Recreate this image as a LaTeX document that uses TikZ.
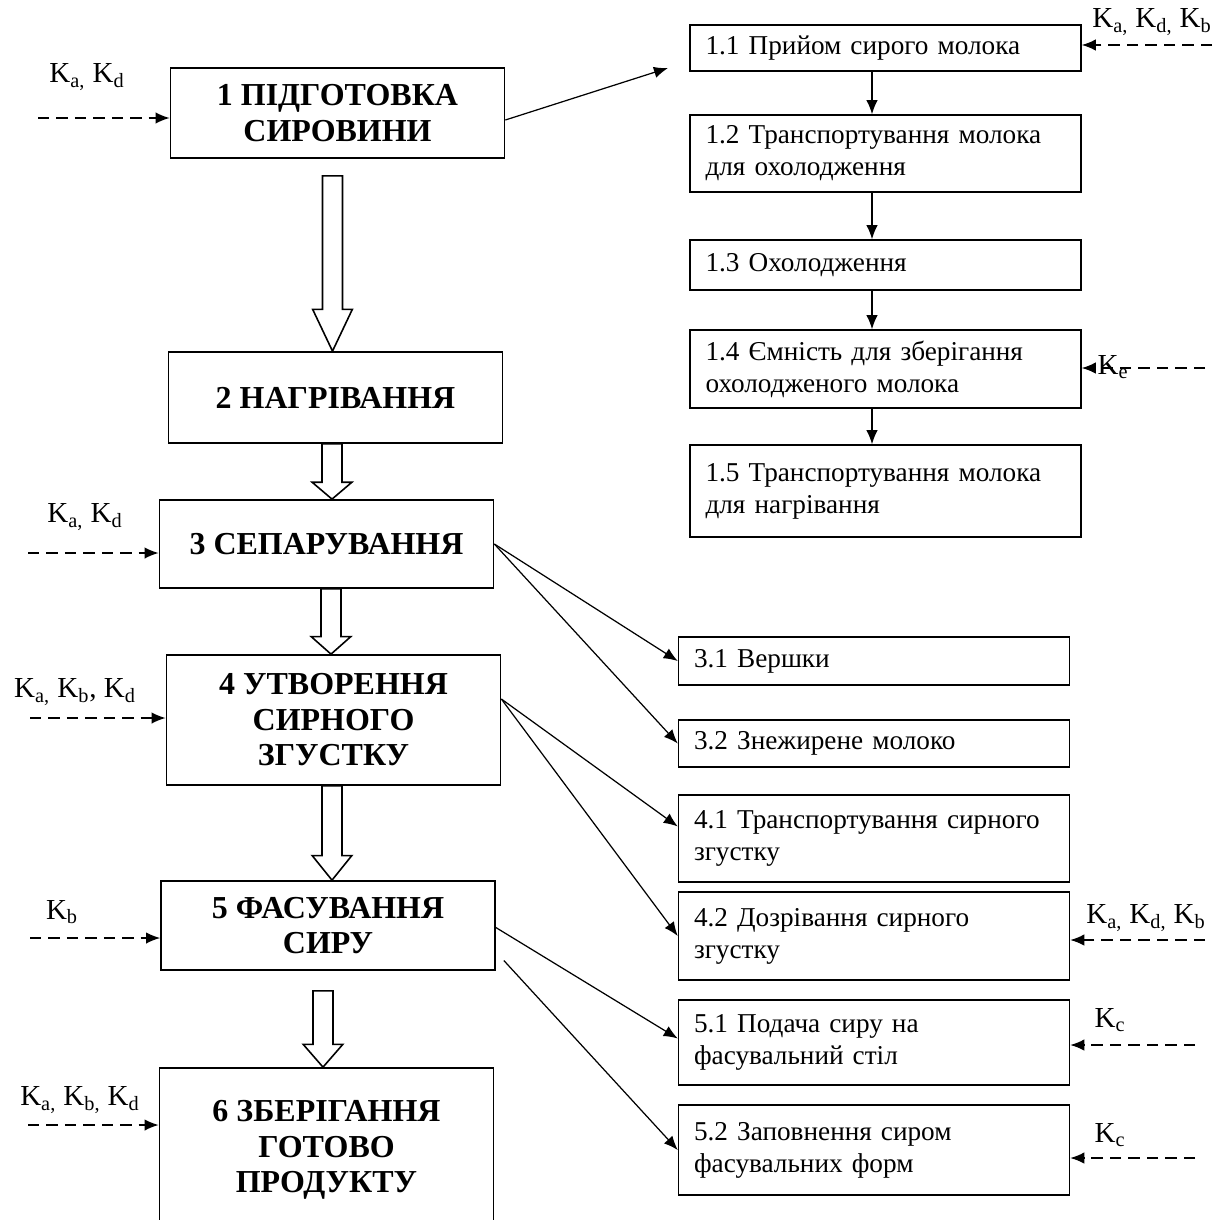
\documentclass[tikz,border=0pt]{standalone}
\usepackage{fontspec}
\setmainfont{Liberation Serif}
\usetikzlibrary{arrows.meta,calc}
\tikzset{
  mainbox/.style={draw,line width=1pt,minimum width=6.68cm,align=center,inner sep=0pt,
    font=\bfseries\fontsize{18.2}{20.2}\selectfont},
  subbox/.style={draw,line width=0.9pt,minimum width=7.82cm,text width=7.2cm,inner xsep=0.31cm,
    inner ysep=0pt,align=left,font=\fontsize{15.5}{18.3}\selectfont},
  ctrl/.style={line width=0.8pt,dash pattern=on 6.5pt off 4pt,-{Latex[length=8pt,width=6.5pt]}},
  flow/.style={line width=0.7pt,-{Latex[length=8pt,width=6.5pt]}},
  klabel/.style={font=\fontsize{16.5}{19}\selectfont,inner sep=0pt},
  hollow/.style={line width=0.9pt,fill=white}
}
\newcommand{\Ks}[1]{K\textsubscript{#1}}
\newcommand{\holarrow}[3]{%
  \draw[hollow] let \p1=#1, \p2=#2 in
    (\x2-5.7pt,\y1) -- (\x2-5.7pt,\y2+#3) -- (\x2-11.3pt,\y2+#3) -- (\x2,\y2)
    -- (\x2+11.3pt,\y2+#3) -- (\x2+5.7pt,\y2+#3) -- (\x2+5.7pt,\y1) -- cycle;}
\begin{document}
\begin{tikzpicture}[x=0.02cm,y=-0.02cm]
  \useasboundingbox (0,0) rectangle (1215,1220);
  \clip (0,0) rectangle (1215,1220);
  % main stages
  \node[mainbox,minimum height=1.8cm] (b1) at (337.5,113) {1 ПІДГОТОВКА\\СИРОВИНИ};
  \node[mainbox,minimum height=1.82cm] (b2) at (335.5,397.5) {2 НАГРІВАННЯ};
  \node[mainbox,minimum height=1.76cm] (b3) at (326.5,544) {3 СЕПАРУВАННЯ};
  \node[mainbox,minimum height=2.6cm] (b4) at (333.5,720) {4 УТВОРЕННЯ\\СИРНОГО\\ЗГУСТКУ};
  \node[mainbox,minimum height=1.78cm] (b5) at (328,925.5) {5 ФАСУВАННЯ\\СИРУ};
  \node[mainbox,minimum height=3.28cm] (b6) at (326.5,1150) {6 ЗБЕРІГАННЯ\\ГОТОВО\\ПРОДУКТУ};
  % sub steps
  \node[subbox,minimum height=0.92cm] (b11) at (885.5,48) {1.1 Прийом сирого молока};
  \node[subbox,minimum height=1.54cm] (b12) at (885.5,153.5) {1.2 Транспортування молока\\для охолодження};
  \node[subbox,minimum height=1.0cm] (b13) at (885.5,265) {1.3 Охолодження};
  \node[subbox,minimum height=1.56cm] (b14) at (885.5,369) {1.4 Ємність для зберігання\\охолодженого молока};
  \node[subbox,minimum height=1.84cm] (b15) at (885.5,491) {1.5 Транспортування молока\\для нагрівання};
  \node[subbox,minimum height=0.96cm] (b31) at (874,661) {3.1 Вершки};
  \node[subbox,minimum height=0.94cm] (b32) at (874,743.5) {3.2 Знежирене молоко};
  \node[subbox,minimum height=1.74cm] (b41) at (874,838.5) {4.1 Транспортування сирного\\згустку};
  \node[subbox,minimum height=1.76cm] (b42) at (874,936) {4.2 Дозрівання сирного\\згустку};
  \node[subbox,minimum height=1.7cm] (b51) at (874,1042.5) {5.1 Подача сиру на\\фасувальний стіл};
  \node[subbox,minimum height=1.8cm] (b52) at (874,1150) {5.2 Заповнення сиром\\фасувальних форм};
  % hollow arrows
  \holarrow{($(b1.south)+(-5,17)$)}{($(b2.north)+(-3,0)$)}{23.8pt}
  \holarrow{(b2.south)}{($(b3.north)+(5.5,0)$)}{9.6pt}
  \holarrow{(b3.south)}{($(b4.north)+(-2.5,0)$)}{10pt}
  \holarrow{(b4.south)}{($(b5.north)+(4,0)$)}{14pt}
  \holarrow{($(b5.south)+(0,20)$)}{($(b6.north)+(-3.5,0)$)}{13pt}
  % control inputs
  \node[klabel] (l1) at (87,77) {\Ks{a,} \Ks{d}};
  \node[klabel] (l3) at (85,517) {\Ks{a,} \Ks{d}};
  \node[klabel] (l4) at (75,692) {\Ks{a,} \Ks{b}, \Ks{d}};
  \node[klabel] (l5) at (62,912) {\Ks{b}};
  \node[klabel] (l6) at (80,1100) {\Ks{a,} \Ks{b,} \Ks{d}};
  \node[klabel] (r11) at (1152,22) {\Ks{a,} \Ks{d,} \Ks{b}};
  \node[klabel] (r14) at (1113,367) {\Ks{e}};
  \node[klabel] (r42) at (1146,918) {\Ks{a,} \Ks{d,} \Ks{b}};
  \node[klabel] (r51) at (1110,1020) {\Ks{c}};
  \node[klabel] (r52) at (1110,1135) {\Ks{c}};
  \coordinate (k1) at (38,118);
  \coordinate (k3) at (28,553);
  \coordinate (k4) at (30,718);
  \coordinate (k5) at (30,938);
  \coordinate (k6) at (28,1125);
  \coordinate (kr11) at (1212,45);
  \coordinate (kr14) at (1205,368);
  \coordinate (kr42) at (1205,940);
  \coordinate (kr51) at (1195,1045);
  \coordinate (kr52) at (1195,1158);
  \draw[ctrl] (k1) -- (k1 -| b1.west);
  \draw[ctrl] (k3) -- (k3 -| b3.west);
  \draw[ctrl] (k4) -- (k4 -| b4.west);
  \draw[ctrl] (k5) -- (k5 -| b5.west);
  \draw[ctrl] (k6) -- (k6 -| b6.west);
  \draw[ctrl] (kr11) -- (kr11 -| b11.east);
  \draw[ctrl] (kr14) -- (kr14 -| b14.east);
  \draw[ctrl] (kr42) -- (kr42 -| b42.east);
  \draw[ctrl] (kr51) -- (kr51 -| b51.east);
  \draw[ctrl] (kr52) -- (kr52 -| b52.east);
  % flows
  \foreach \a/\b in {b11/b12,b12/b13,b13/b14,b14/b15}
    \draw[flow] ([xshift=-0.27cm]\a.south) -- ([xshift=-0.27cm]\b.north);
  \coordinate (e1) at (668,68);
  \draw[flow] ($(b1.east)+(0,7)$) -- (e1);
  \draw[flow] (b3.east) -- (b31.west);
  \draw[flow] (b3.east) -- (b32.west);
  \draw[flow] ($(b4.east)+(0,-21)$) -- ($(b41.west)+(0,-12)$);
  \draw[flow] ($(b4.east)+(0,-21)$) -- (b42.west);
  \draw[flow] ($(b5.east)+(0,2)$) -- ($(b51.west)+(0,-4)$);
  \coordinate (s5) at ($(b5.east)+(8,35)$);
  \draw[flow] (s5) -- (b52.west);
\end{tikzpicture}
\end{document}
